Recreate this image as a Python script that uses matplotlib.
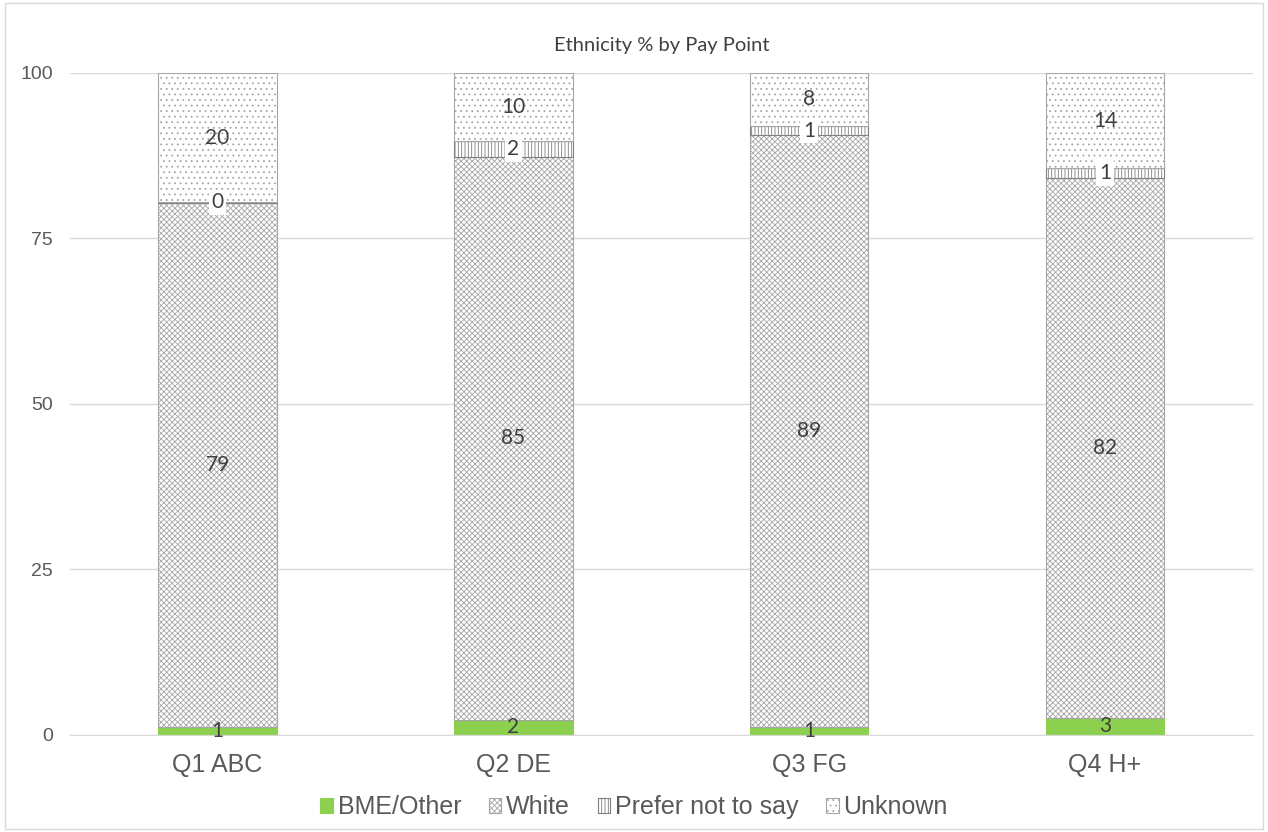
import numpy as np
import matplotlib.pyplot as plt
from matplotlib.patches import Rectangle

categories = ['Q1 ABC', 'Q2 DE', 'Q3 FG', 'Q4 H+']
bme = [1.2, 2.3, 1.2, 2.6]
white = [79.2, 85.0, 89.4, 81.6]
prefer_not = [0.1, 2.4, 1.4, 1.4]
unknown = [19.5, 10.3, 8.0, 14.4]

series = ['BME/Other', 'White', 'Prefer not to say', 'Unknown']
values = [bme, white, prefer_not, unknown]

plt.rcParams['hatch.linewidth'] = 0.6

fig = plt.figure(figsize=(12.68, 8.32), dpi=100)
fig.patches.append(Rectangle((0.004, 0.004), 0.992, 0.992, transform=fig.transFigure,
                             fill=False, edgecolor='#d9d9d9', linewidth=1))
ax = fig.add_axes([0.055, 0.1166, 0.933, 0.7957])

x = np.arange(len(categories))
styles = [
    dict(color='#8dd04f', edgecolor='#8dd04f', hatch=None),
    dict(color='white', edgecolor='#a6a6a6', hatch='xxxxxx'),
    dict(color='white', edgecolor='#7f7f7f', hatch='|||||'),
    dict(color='white', edgecolor='#a6a6a6', hatch='...'),
]

bottom = np.zeros(len(categories))
for name, vals, st in zip(series, values, styles):
    vals = np.array(vals)
    ax.bar(x, vals, 0.4, bottom=bottom, label=name, facecolor=st['color'],
           edgecolor=st['edgecolor'], hatch=st['hatch'], linewidth=0.8, zorder=2)
    for xi, b, v in zip(x, bottom, vals):
        kw = {}
        if name == 'Prefer not to say':
            kw['bbox'] = dict(facecolor='white', edgecolor='none', pad=2)
        ax.text(xi, b + v / 2, f'{v:.0f}', ha='center', va='center', fontsize=15,
                color='#404040', family='Lato', zorder=3, **kw)
    bottom += vals

ax.set_xlim(-0.5, len(categories) - 0.5)
ax.set_ylim(0, 100)
ax.set_yticks([0, 25, 50, 75, 100])
ax.set_xticks(x)
ax.set_xticklabels(categories)
ax.tick_params(axis='both', length=0, labelcolor='#595959', labelfontfamily='Liberation Sans')
ax.tick_params(axis='y', pad=12, labelsize=14)
ax.tick_params(axis='x', pad=13, labelsize=18)
ax.grid(axis='y', color='#d9d9d9', linewidth=1, zorder=0)
ax.set_axisbelow(True)
for s in ['top', 'right', 'left']:
    ax.spines[s].set_visible(False)
ax.spines['bottom'].set_color('#d9d9d9')

ax.set_title('Ethnicity % by Pay Point', fontsize=14.5, color='#404040', family='Lato', pad=16)

leg = fig.legend(loc='lower center', bbox_to_anchor=(0.5, -0.012), ncol=4, frameon=False,
                 handlelength=0.5, handleheight=0.5, handletextpad=0.2, columnspacing=1.1,
                 prop={'family': 'Liberation Sans', 'size': 18})
for t in leg.get_texts():
    t.set_color('#595959')

fig.savefig('out.png', dpi=100)
